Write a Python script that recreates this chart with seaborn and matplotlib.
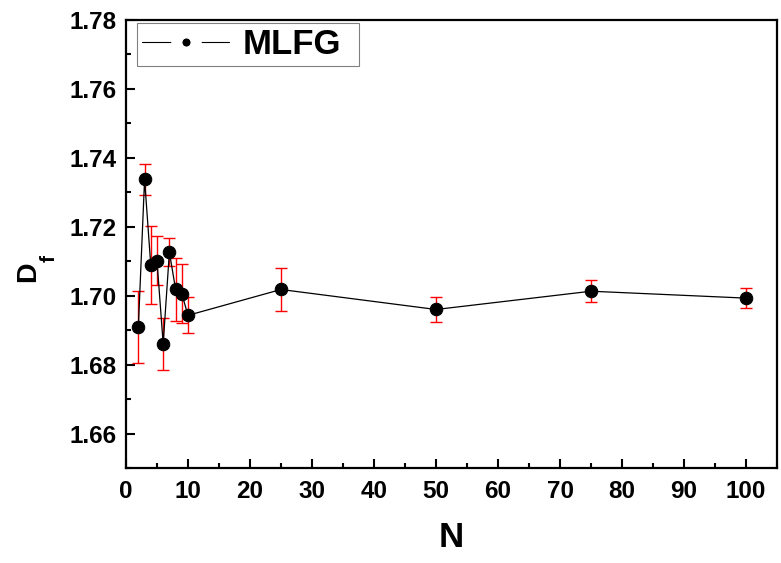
import matplotlib
matplotlib.use("Agg")
import matplotlib.pyplot as plt
import seaborn as sns
import numpy as np
import pandas as pd
from matplotlib.ticker import MultipleLocator, FormatStrFormatter
from matplotlib.lines import Line2D
from matplotlib.legend_handler import HandlerTuple

N = [2, 3, 4, 5, 6, 7, 8, 9, 10, 25, 50, 75, 100]
Df = [1.6910, 1.7338, 1.7088, 1.7102, 1.6860, 1.7126, 1.7019, 1.7006, 1.6943,
      1.7018, 1.6960, 1.7013, 1.6993]
err = [0.0105, 0.0045, 0.0113, 0.0070, 0.0075, 0.0040, 0.0091, 0.0085, 0.0052,
       0.0062, 0.0035, 0.0032, 0.0029]

df = pd.DataFrame({"N": N, "Df": Df, "err": err})

sns.set_theme(style="ticks")
plt.rcParams['font.family'] = ['Liberation Sans', 'DejaVu Sans']
plt.rcParams['font.weight'] = 'bold'
plt.rcParams['text.color'] = 'black'
plt.rcParams['axes.labelcolor'] = 'black'
plt.rcParams['xtick.color'] = 'black'
plt.rcParams['ytick.color'] = 'black'

fig = plt.figure(figsize=(7.81, 5.63), dpi=100)
ax = fig.add_axes([0.1613, 0.1687, 0.9949 - 0.1613, 0.9645 - 0.1687])

ax.errorbar(df["N"], df["Df"], yerr=df["err"], fmt="none", ecolor="red",
            elinewidth=1.0, capsize=4.3, capthick=1.0, zorder=2)
sns.lineplot(data=df, x="N", y="Df", ax=ax, color="black", linewidth=0.9,
             marker="o", markersize=9, markeredgecolor="black",
             markerfacecolor="black", zorder=3, legend=False)

ax.set_xlim(0, 105)
ax.set_ylim(1.65, 1.78)
ax.set_xticks(np.arange(0, 101, 10))
ax.xaxis.set_minor_locator(MultipleLocator(5))
ax.yaxis.set_major_locator(MultipleLocator(0.02))
ax.yaxis.set_minor_locator(MultipleLocator(0.01))
ax.yaxis.set_major_formatter(FormatStrFormatter('%.2f'))

ax.tick_params(which="major", direction="in", length=6.5, width=1.5,
               labelsize=17.5, top=False, right=False)
ax.tick_params(which="minor", direction="in", length=3.6, width=1.5,
               top=False, right=False)
ax.tick_params(axis="x", which="major", pad=8.5)
ax.tick_params(axis="y", which="major", pad=6.5)
for lab in ax.get_xticklabels() + ax.get_yticklabels():
    lab.set_fontweight("bold")

for s in ax.spines.values():
    s.set_linewidth(1.6)
    s.set_color("black")

ax.set_xlabel("N", fontsize=25, fontweight="bold", labelpad=13)

# y label "D" with a low subscript "f"
ax.set_ylabel("D", fontsize=20.5, fontweight="bold")
ax.yaxis.set_label_coords(-0.1306, 0.4386)
ax.text(-0.1090, 0.4676, "f", transform=ax.transAxes, rotation=90,
        rotation_mode="anchor", ha="center", va="baseline",
        fontsize=15, fontweight="bold", color="black")

line_h = Line2D([], [], color="black", linewidth=0.8)
mark_h = Line2D([], [], linestyle="none", marker="o", markersize=14,
                markerfacecolor="black", markeredgecolor="white",
                markeredgewidth=8)
leg = ax.legend([(line_h, mark_h)], ["MLFG"], loc="upper left",
                bbox_to_anchor=(11 / 651, 0, 222 / 651, 1 - 3 / 448),
                mode="expand", borderaxespad=0,
                frameon=True, fancybox=False, edgecolor="gray", framealpha=1,
                prop={"size": 25, "weight": "bold"}, handlelength=2.5,
                borderpad=0.15, handletextpad=0.4,
                handler_map={tuple: HandlerTuple(ndivide=1)})
leg.get_frame().set_linewidth(0.8)
leg.set_zorder(5)

fig.savefig("out.png", dpi=100)
